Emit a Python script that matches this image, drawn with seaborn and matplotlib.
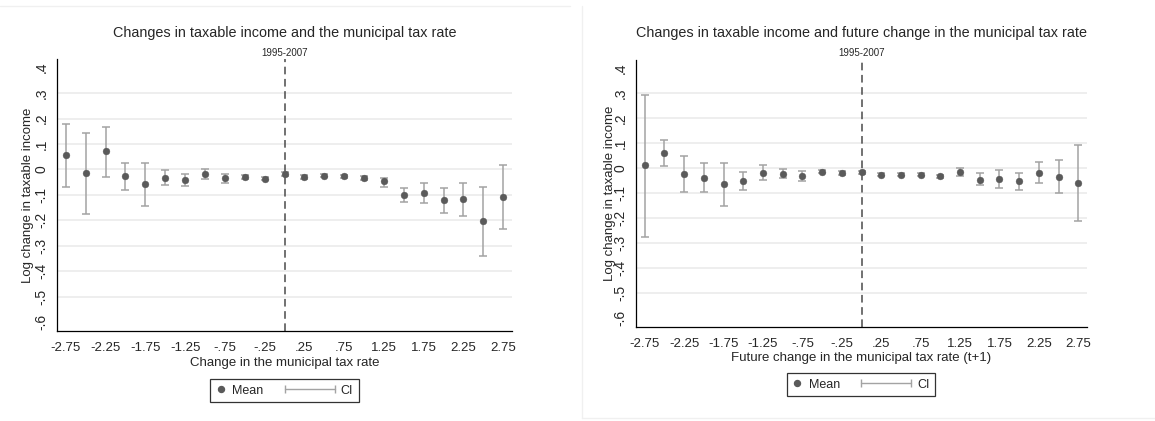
import numpy as np
import pandas as pd
import matplotlib
matplotlib.use("Agg")
import matplotlib.pyplot as plt
import seaborn as sns
from matplotlib.lines import Line2D
from matplotlib.legend_handler import HandlerLine2D

# --- dane ---
tax_change = [-2.75, -2.5, -2.25, -2.0, -1.75, -1.5, -1.25, -1.0, -0.75, -0.5, -0.25, 0.0,
              0.25, 0.5, 0.75, 1.0, 1.25, 1.5, 1.75, 2.0, 2.25, 2.5, 2.75]

left_mean = [0.055, -0.014, 0.071, -0.026, -0.059, -0.033, -0.041, -0.018, -0.033, -0.029, -0.036, -0.017,
             -0.029, -0.025, -0.026, -0.033, -0.047, -0.099, -0.093, -0.120, -0.118, -0.203, -0.109]
left_lo = [-0.068, -0.175, -0.029, -0.082, -0.142, -0.063, -0.066, -0.038, -0.053, -0.037, -0.043, -0.024,
           -0.036, -0.031, -0.032, -0.040, -0.068, -0.128, -0.132, -0.170, -0.182, -0.341, -0.233]
left_hi = [0.178, 0.143, 0.167, 0.025, 0.024, -0.004, -0.017, 0.000, -0.018, -0.021, -0.029, -0.010,
           -0.022, -0.019, -0.020, -0.026, -0.033, -0.072, -0.055, -0.072, -0.055, -0.068, 0.016]

right_mean = [0.012, 0.062, -0.024, -0.038, -0.064, -0.050, -0.017, -0.021, -0.029, -0.013, -0.018, -0.016,
              -0.026, -0.026, -0.025, -0.032, -0.016, -0.046, -0.043, -0.051, -0.017, -0.033, -0.059]
right_lo = [-0.275, 0.008, -0.093, -0.096, -0.150, -0.087, -0.045, -0.038, -0.051, -0.019, -0.025, -0.023,
            -0.032, -0.032, -0.031, -0.038, -0.032, -0.068, -0.078, -0.088, -0.058, -0.100, -0.211]
right_hi = [0.295, 0.114, 0.049, 0.020, 0.020, -0.016, 0.012, -0.004, -0.009, -0.007, -0.011, -0.009,
            -0.020, -0.020, -0.019, -0.026, 0.001, -0.020, -0.008, -0.017, 0.026, 0.032, 0.092]

x_ticks = [-2.75, -2.25, -1.75, -1.25, -0.75, -0.25, 0.25, 0.75, 1.25, 1.75, 2.25, 2.75]
x_tick_labels = ["-2.75", "-2.25", "-1.75", "-1.25", "-.75", "-.25", ".25", ".75", "1.25", "1.75", "2.25", "2.75"]
y_ticks = [0.4, 0.3, 0.2, 0.1, 0.0, -0.1, -0.2, -0.3, -0.4, -0.5, -0.6]
y_tick_labels = [".4", ".3", ".2", ".1", "0", "-.1", "-.2", "-.3", "-.4", "-.5", "-.6"]

titles = ["Changes in taxable income and the municipal tax rate",
          "Changes in taxable income and future change in the municipal tax rate"]
subtitle = "1995-2007"
xlabels = ["Change in the municipal tax rate", "Future change in the municipal tax rate (t+1)"]
ylabel = "Log change in taxable income"

# Kolory w stylu Stata (s1mono)
DOT = "#5a5a5a"
CI = "#a3a3a3"
GRID = "#ebebeb"

sns.set_style("white")
plt.rcParams["font.family"] = ["Liberation Sans", "DejaVu Sans"]

fig = plt.figure(figsize=(11.55, 4.21), dpi=100)
W, H = 1155, 421


class CIHandler(HandlerLine2D):
    # linia CI rysowana w lewo od pola uchwytu (szerszy uchwyt tylko dla CI)
    def get_xdata(self, legend, xdescent, ydescent, width, height, fontsize):
        right = -xdescent + width
        x = np.array([right - 4.0 * fontsize, right])
        return x, x


# (lewo, góra, prawo, dół) w pikselach, legenda: środek x, góra y
panels = [
    dict(box=(57, 59, 512, 331), mean=left_mean, lo=left_lo, hi=left_hi,
         title_x=284.5, xlab_y=363, ylab_x=28, leg=(284.5, 379)),
    dict(box=(636, 60, 1087, 327), mean=right_mean, lo=right_lo, hi=right_hi,
         title_x=861, xlab_y=358, ylab_x=610, leg=(861, 373)),
]

for i, p in enumerate(panels):
    l, t, r, b = p["box"]
    ax = fig.add_axes([l / W, 1 - b / H, (r - l) / W, (b - t) / H])
    df = pd.DataFrame({"x": tax_change, "mean": p["mean"], "lo": p["lo"], "hi": p["hi"]})

    # linie siatki (bez skrajnych wartości, jak w Stata)
    for yv in y_ticks[1:-1]:
        ax.axhline(yv, color=GRID, lw=1.2, zorder=0)
    ax.axvline(0, color="#4a4a4a", lw=1.1, ls=(0, (5, 3)), zorder=1)

    ax.errorbar(df["x"], df["mean"],
                yerr=[df["mean"] - df["lo"], df["hi"] - df["mean"]],
                fmt="none", ecolor=CI, elinewidth=1.1, capsize=3, capthick=1.1, zorder=2)
    sns.scatterplot(data=df, x="x", y="mean", ax=ax, color=DOT, s=24,
                    edgecolor=DOT, linewidth=0.3, zorder=3, legend=False)

    ax.set_xlim(-2.86, 2.86)
    ax.set_ylim(-0.635, 0.434)
    ax.set_xticks(x_ticks)
    ax.set_xticklabels(x_tick_labels, fontsize=9.5)
    ax.set_yticks(y_ticks)
    ax.set_yticklabels(y_tick_labels, fontsize=10, rotation=90, va="center")
    ax.tick_params(axis="both", direction="out", length=3, width=0.9, color="black")
    ax.tick_params(axis="x", pad=5)
    ax.tick_params(axis="y", pad=3)
    for side in ["top", "right"]:
        ax.spines[side].set_visible(False)
    for side in ["left", "bottom"]:
        ax.spines[side].set_color("black")
        ax.spines[side].set_linewidth(0.9)

    ax.set_xlabel(xlabels[i], fontsize=9.5, va="center")
    ax.xaxis.set_label_coords(0.5, (b - p["xlab_y"]) / (b - t))
    ax.set_ylabel(ylabel, fontsize=9.5, va="center")
    ax.yaxis.set_label_coords((p["ylab_x"] - l) / (r - l), 0.5)

    fig.text(p["title_x"] / W, 1 - 32.5 / H, titles[i], ha="center", va="center", fontsize=10.4)
    fig.text(((l + r) / 2) / W, 1 - 52.5 / H, subtitle, ha="center", va="center", fontsize=7)

    h_mean = Line2D([], [], ls="none", marker="o", markersize=4.3, color=DOT)
    h_ci = Line2D([], [], color=CI, lw=1.0, marker="|", markersize=6, markeredgewidth=1.0)
    lx, ly = p["leg"]
    ax.legend([h_mean, h_ci], ["Mean", "CI"], ncol=2, loc="upper center",
              bbox_to_anchor=(lx / W, 1 - ly / H), bbox_transform=fig.transFigure,
              handler_map={h_mean: HandlerLine2D(numpoints=1), h_ci: CIHandler(numpoints=2)},
              handlelength=0.8, handletextpad=0.5, columnspacing=4.9,
              fontsize=9, frameon=True, fancybox=False, edgecolor="black",
              borderpad=0.45, borderaxespad=0)
    ax.get_legend().get_frame().set_linewidth(0.9)

# delikatne ramki paneli z oryginału
fig.add_artist(Line2D([0, 570 / W], [1 - 6 / H] * 2, color="#f0f0f0", lw=1, transform=fig.transFigure))
fig.add_artist(Line2D([582 / W] * 2, [1 - 6 / H, 1 - 418 / H], color="#f0f0f0", lw=1, transform=fig.transFigure))
fig.add_artist(Line2D([582 / W, 1], [1 - 418 / H] * 2, color="#f0f0f0", lw=1, transform=fig.transFigure))

fig.savefig("out.png", dpi=100)
plt.close(fig)
